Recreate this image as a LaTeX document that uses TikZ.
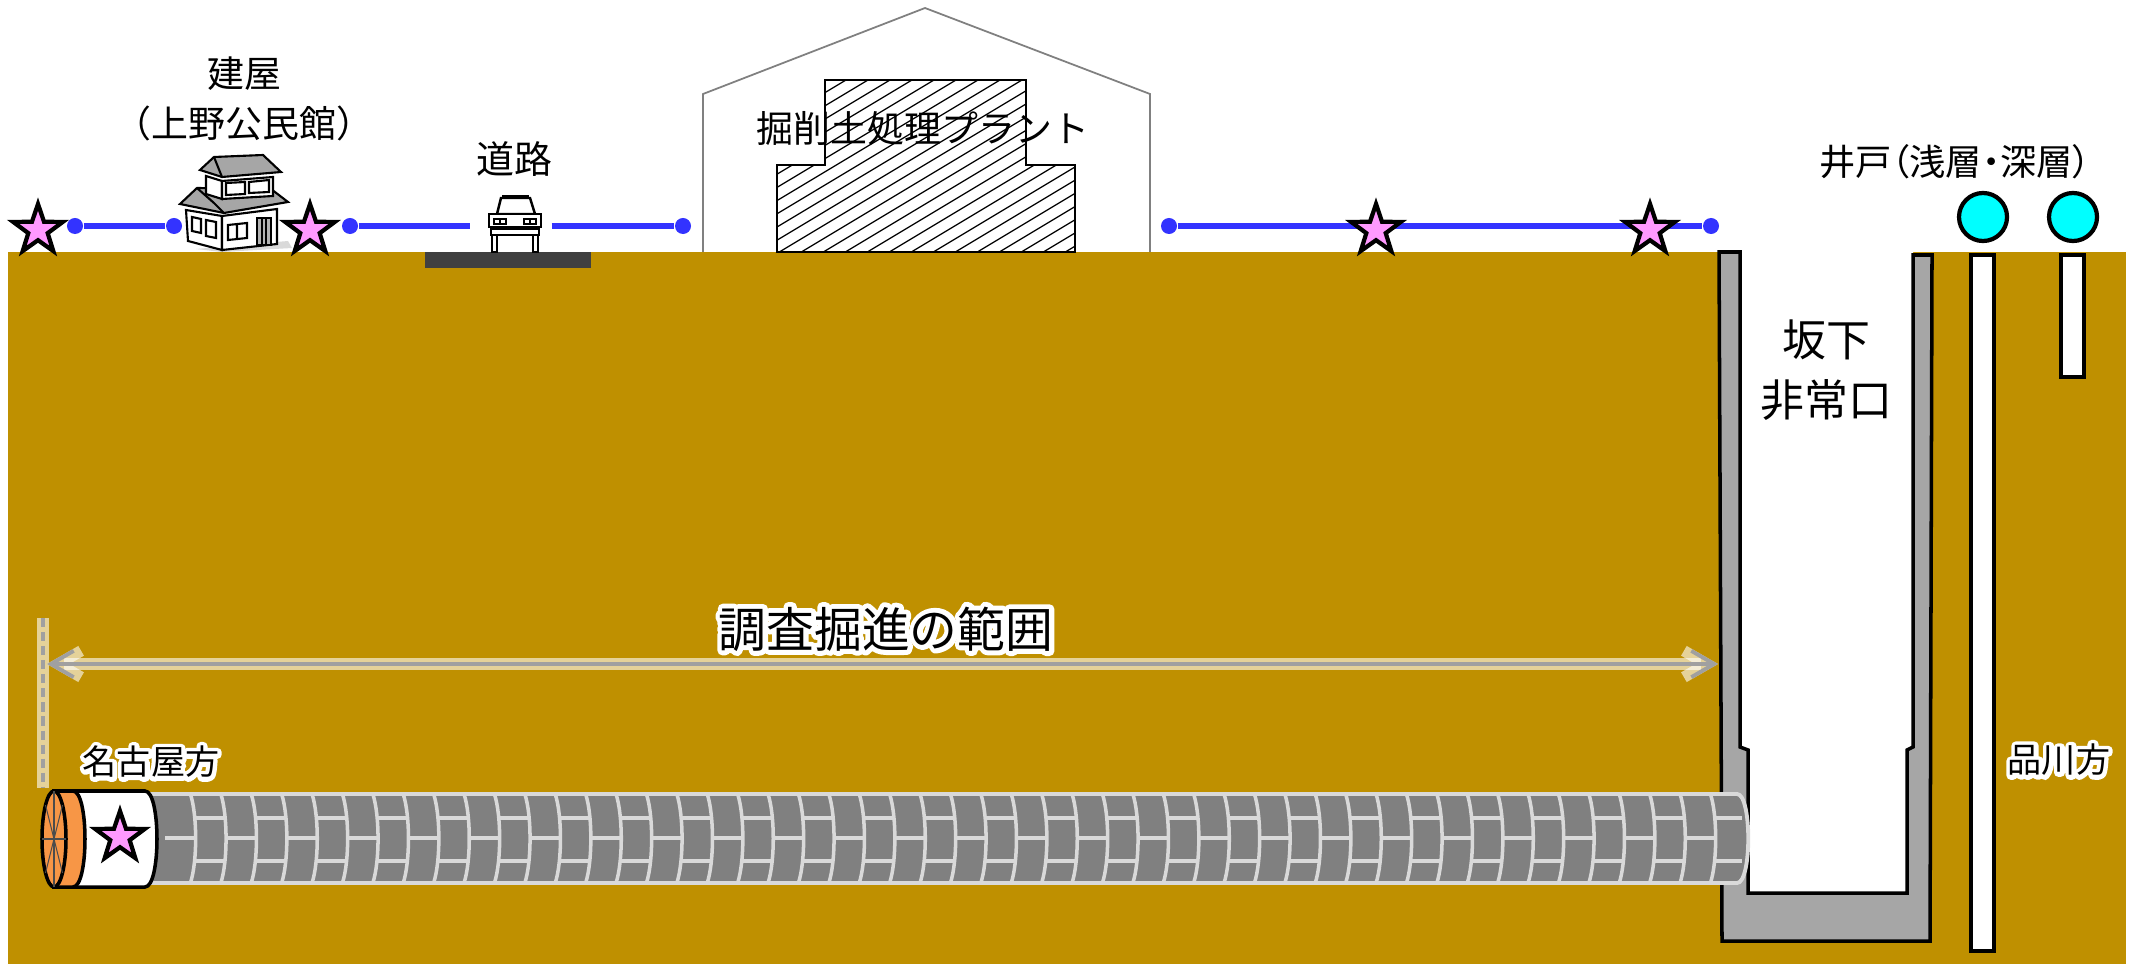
\documentclass[tikz,border=0pt]{standalone}
\usepackage{fontspec}
\setmainfont{Noto Sans CJK JP}
\newfontfamily\jpprop[RawFeature=+palt]{Noto Sans CJK JP}
\usetikzlibrary{arrows.meta,shapes.geometric}

\definecolor{soil}{HTML}{BF9000}
\definecolor{survey}{HTML}{3333FF}
\definecolor{starpink}{HTML}{FF99FF}
\definecolor{wall}{HTML}{A6A6A6}
\definecolor{seg}{HTML}{808080}
\definecolor{segline}{HTML}{D9D9D9}
\definecolor{cutter}{HTML}{F79646}
\definecolor{road}{HTML}{404040}
\definecolor{rangec}{HTML}{A0A0A0}
\definecolor{wellc}{HTML}{00FFFF}

% white outline behind black text: a stroked copy first, then the text
\newcommand\rim[2][2.4]{%
  \rlap{\special{pdf:literal direct #1 w 1 1 1 RG 1 j 1 Tr}#2%
    \special{pdf:literal direct 0 Tr 0 0 0 RG 0 j}}#2}

\tikzset{
  mk/.style={star, star points=5, star point ratio=2.55, draw=black, line width=1.2pt,
    fill=starpink, minimum size=0.52cm, inner sep=0pt},
  dot/.style={circle, fill=survey, minimum size=0.16cm, inner sep=0pt},
  svy/.style={survey, line width=1.7pt},
  lbl/.style={inner sep=0pt, align=center, font=\fontsize{10.5pt}{14pt}\selectfont},
  pipe/.style={draw=black, line width=1.4pt, fill=white},
  welltop/.style={circle, draw=black, line width=1.2pt, fill=wellc, minimum size=0.48cm, inner sep=0pt},
  rng/.style={rangec, line width=1.1pt},
  rngglow/.style={white, opacity=.6, line width=3.2pt},
  arr/.style={arrows={Straight Barb[length=6.5pt,width=7.5pt]-Straight Barb[length=6.5pt,width=7.5pt]}},
  seam/.style={segline, line width=1pt},
}

\begin{document}
\begin{tikzpicture}[x=0.01cm, y=-0.01cm]
\useasboundingbox (0,0) rectangle (2134,964);
\fill[white] (0,0) rectangle (2134,964);

% ground and road
\fill[soil] (8,252) rectangle (2126,964);
\fill[road] (425,252) rectangle (591,268);

% plant building
\draw[black!50, line width=.5pt] (703,252) -- (703,94) -- (925,8) -- (1150,94) -- (1150,252);
\draw[line width=.5pt, fill=white] (777,252) -- (777,165) -- (825,165) -- (825,80) -- (1026,80)
  -- (1026,165) -- (1075,165) -- (1075,252) -- cycle;
\begin{scope}
  \clip (777,252) -- (777,165) -- (825,165) -- (825,80) -- (1026,80)
    -- (1026,165) -- (1075,165) -- (1075,252) -- cycle;
  \foreach \h in {480,502,...,1080}
    \draw[line width=.35pt] (\h,260) -- ++(300,-180);
\end{scope}
\node[lbl] (plant) at (923,128) {掘削土処理プラント};

% house
\fill[black!15] (196,249) -- (288,241) -- (292,248) -- (222,252) -- cycle;
\begin{scope}[line width=.6pt]
  \filldraw[fill=white] (186,210) -- (222,216) -- (222,250) -- (188,241) -- cycle;
  \filldraw[fill=white] (222,216) -- (277,209) -- (277,244) -- (222,250) -- cycle;
  \draw (192,217) -- (201,219) -- (201,233) -- (192,231) -- cycle;
  \draw (206,220) -- (216,222) -- (216,238) -- (206,236) -- cycle;
  \draw (228,225) -- (247,223) -- (247,238) -- (228,240) -- cycle (237,224) -- (237,239);
  \filldraw[fill=black!30] (257,218) rectangle (271,245);
  \draw (262,218) -- (262,245) (266,218) -- (266,245);
  \filldraw[fill=black!35] (180,204) -- (197,188) -- (271,189) -- (288,202) -- (224,213) -- cycle;
  \draw (197,188) -- (214,203) -- (224,213);
  \filldraw[fill=white] (206,176) -- (222,181) -- (222,199) -- (206,194) -- cycle;
  \filldraw[fill=white] (222,181) -- (273,177) -- (273,196) -- (222,199) -- cycle;
  \draw (226,183) -- (245,182) -- (245,194) -- (226,195) -- cycle;
  \draw (249,182) -- (269,180) -- (269,192) -- (249,193) -- cycle;
  \filldraw[fill=black!35] (200,170) -- (214,157) -- (263,155) -- (281,172) -- (222,177) -- cycle;
  \draw (214,157) -- (222,177);
\end{scope}

% car
\node[fill=white, minimum width=0.8cm, minimum height=0.5cm, inner sep=0pt] (car) at (511,226) {};
\begin{scope}[line width=.7pt]
  \filldraw[fill=white] (497,214) -- (501,198) -- (530,198) -- (535,214) -- cycle;
  \draw[line width=1.2pt] (502,197) -- (529,197);
  \filldraw[fill=white] (489,214) rectangle (541,227);
  \draw (494,219) rectangle (506,224) (500,219) -- (500,224);
  \draw (524,219) rectangle (536,224) (530,219) -- (530,224);
  \filldraw[fill=white] (491,229) rectangle (539,235);
  \filldraw[fill=white] (492,235) rectangle (497,252);
  \filldraw[fill=white] (533,235) rectangle (538,252);
\end{scope}

% survey lines on the surface
\node[dot] (a1) at (75,226) {};
\node[dot] (a2) at (174,226) {};
\node[dot] (b1) at (350,226) {};
\node[dot] (b2) at (683,226) {};
\node[dot] (c1) at (1169,226) {};
\node[dot] (c2) at (1711,226) {};
\draw[svy] (a1) -- (a2);
\draw[svy] (b1) -- (car);
\draw[svy] (car) -- (b2);
\draw[svy] (c1) -- (c2);
\node[mk] (s1) at (38,230) {};
\node[mk] (s2) at (310,230) {};
\node[mk] (s3) at (1376,230) {};
\node[mk] (s4) at (1650,230) {};

\node[lbl] (bldg) at (244,99) {建屋\\（上野公民館）};
\node[lbl, font=\fontsize{10.8pt}{13pt}\selectfont] (roadlbl) at (514,159) {道路};
\node[lbl, font=\jpprop\fontsize{10.3pt}{12pt}\selectfont] (welllbl) at (1955,162) {井戸（浅層・深層）};

% emergency exit shaft
\fill[white] (1740,249) -- (1740,747) -- (1748,750) -- (1748,893) -- (1907,893) -- (1907,750)
  -- (1913,747) -- (1913,249) -- cycle;
\draw[fill=wall, line width=1pt] (1740,252) -- (1719,252) -- (1722,941) -- (1930,941) -- (1932,255)
  -- (1913,255) -- (1913,747) -- (1907,750) -- (1907,893) -- (1748,893) -- (1748,750)
  -- (1740,747) -- cycle;
\node[lbl, font=\fontsize{12.5pt}{17pt}\selectfont] (exit) at (1826,370) {坂下\\非常口};

% wells
\draw[pipe] (1971,255) rectangle (1994,951);
\draw[pipe] (2061,255) rectangle (2084,377);
\node[welltop] (w1) at (1983,217) {};
\node[welltop] (w2) at (2073,217) {};

% tunnel lining
\filldraw[fill=seg, draw=segline, line width=1.1pt] (150,794) -- (1737,794)
  .. controls (1752,794) and (1752,883) .. (1737,883) -- (150,883) -- cycle;
\foreach \k in {0,...,51} {
  \pgfmathsetmacro\xa{160+30.4*\k}
  \pgfmathsetmacro\xb{min(\xa+30.4,1738)}
  \ifodd\k
    \draw[seam] (\xa+4,818) -- (\xb+4,818) (\xa+4,861) -- (\xb+4,861);
  \else
    \draw[seam] (\xa+5,838) -- (\xb+5,838);
  \fi
  \ifdim\xb pt<1737pt
    \draw[seam] (\xb,794) .. controls (\xb+7,815) and (\xb+7,862) .. (\xb,883);
  \fi
}

% shield machine
\filldraw[fill=white, line width=1pt] (54,791) -- (145,791) .. controls (161,791) and (161,887) .. (145,887)
  -- (54,887) -- cycle;
\filldraw[fill=cutter, line width=1pt] (54,791) -- (73,791) .. controls (89,791) and (89,887) .. (73,887)
  -- (54,887) -- cycle;
\filldraw[fill=cutter, line width=1pt] (54,839) ellipse [x radius=12, y radius=48];
\foreach \a in {0,45,...,315}
  \draw[black!70, line width=.3pt] (54,839) -- ++({12*cos(\a)},{48*sin(\a)});
\node[mk] (ts) at (120,837) {};

% excavation range
\coordinate (mt) at (43,618);
\coordinate (mb) at (43,788);
\coordinate (rl) at (47,664);
\coordinate (rr) at (1718,664);
\draw[rngglow] (mt) -- (mb);
\draw[rng, dash pattern=on 2.6pt off 1.4pt] (mt) -- (mb);
\draw[rngglow, arr] (rl) -- (rr);
\draw[rng, arr] (rl) -- (rr);
\node[lbl, font=\fontsize{13.6pt}{16pt}\selectfont] (span) at (886,629) {\rim[2.8]{調査掘進の範囲}};

\node[lbl, font=\fontsize{9.7pt}{12pt}\selectfont] (nagoya) at (151,762) {\rim{名古屋方}};
\node[lbl, font=\fontsize{9.7pt}{12pt}\selectfont] (shinagawa) at (2059,760) {\rim{品川方}};
\end{tikzpicture}
\end{document}
